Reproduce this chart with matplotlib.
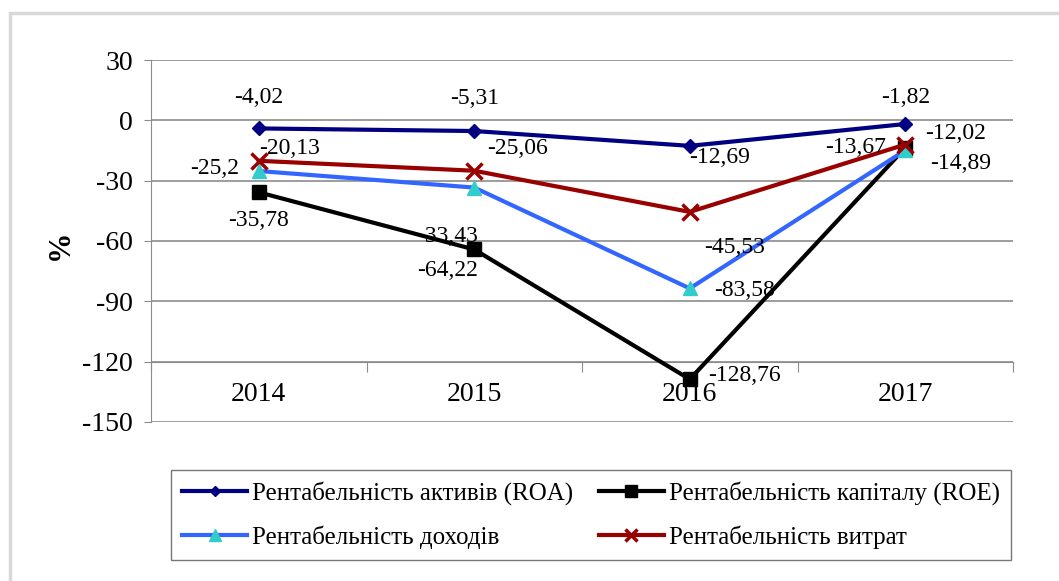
import matplotlib.pyplot as plt
import matplotlib.patches as patches
from matplotlib.lines import Line2D

# data
years = ['2014', '2015', '2016', '2017']
roa = [-4.02, -5.31, -12.69, -1.82]
roe = [-35.78, -64.22, -128.76, -13.67]
income = [-25.2, -33.43, -83.58, -14.89]
costs = [-20.13, -25.06, -45.53, -12.02]
names = ['Рентабельність активів (ROA)', 'Рентабельність капіталу (ROE)',
         'Рентабельність доходів', 'Рентабельність витрат']

plt.rcParams['font.family'] = ['Liberation Serif', 'DejaVu Serif']
plt.rcParams['axes.unicode_minus'] = False

fig = plt.figure(figsize=(10.59, 5.81), dpi=100)
ax = fig.add_axes([0.1426, 0.2737, 0.814, 0.623])

# outer frame
fig.patches.append(patches.Rectangle((10 / 1059, -0.1), 1.2, 1 - 13 / 581 + 0.1,
                                     transform=fig.transFigure, fill=False,
                                     edgecolor='#d9d9d9', linewidth=2.5))

styles = [
    dict(color='#000080', lw=3, marker='D', ms=7),
    dict(color='black', lw=3, marker='s', ms=10),
    dict(color='#3366ff', lw=3, marker='^', ms=10, mfc='#33cccc', mec='#33cccc'),
    dict(color='#990000', lw=3, marker='x', ms=11, mew=2.5),
]

x = range(len(years))
for vals, st in zip([roa, roe, income, costs], styles):
    ax.plot(x, vals, zorder=3, **st)

def lab(v):
    return ('%g' % v).replace('.', ',')

# label offsets in pixels (dx, dy)
off = {
    'roa': [(0, 31), (0, 33), (30, -12), (0, 27)],
    'roe': [(0, -28), (-27, -21), (55, 4), (-50, 0)],
    'income': [(-44, 3), (-27, -49), (55, -2), (55, -13)],
    'costs': [(31, 12), (43, 22), (45, -36), (50, 11)],
}
for key, vals in [('roa', roa), ('roe', roe), ('income', income), ('costs', costs)]:
    for i, v in enumerate(vals):
        dx, dy = off[key][i]
        ax.annotate(lab(v), (i, v), xytext=(dx, dy), textcoords='offset pixels',
                    ha='center', va='center', fontsize=17, zorder=5)

ax.set_xlim(-0.5, 3.5)
ax.set_ylim(-150, 30)
ax.set_yticks(range(-150, 31, 30))
ax.yaxis.grid(True, color='#8c8c8c', lw=1.2)
ax.set_axisbelow(True)
ax.tick_params(axis='y', labelsize=20, length=5, color='#8c8c8c', pad=8)

ax.spines['top'].set_visible(False)
ax.spines['right'].set_visible(False)
ax.spines['left'].set_color('#8c8c8c')
ax.spines['bottom'].set_color('#8c8c8c')
ax.spines['bottom'].set_position(('data', -120))

ax.set_xticks([-0.5, 0.5, 1.5, 2.5, 3.5])
ax.set_xticklabels([])
ax.tick_params(axis='x', which='major', length=7, color='#8c8c8c')
ax.set_xticks(list(x), minor=True)
ax.set_xticklabels(years, minor=True)
ax.tick_params(axis='x', which='minor', length=0, labelsize=20, pad=15)

ax.set_ylabel('%', fontsize=22, fontweight='bold')
ax.yaxis.set_label_coords(-0.088, 0.489)

# legend filled row by row
handles = [Line2D([], [], **st) for st in styles]
order = [0, 2, 1, 3]
leg = fig.legend([handles[i] for i in order], [names[i] for i in order], ncol=2,
                 loc='center', bbox_to_anchor=(591 / 1059, 1 - 515 / 581),
                 fontsize=18, frameon=True, fancybox=False, edgecolor='#555555',
                 handlelength=2.6, handletextpad=0.2, columnspacing=1.0, borderpad=0.45,
                 labelspacing=0.8, markerscale=0.8)
leg.get_frame().set_linewidth(1)

fig.savefig('out.png', dpi=100)
